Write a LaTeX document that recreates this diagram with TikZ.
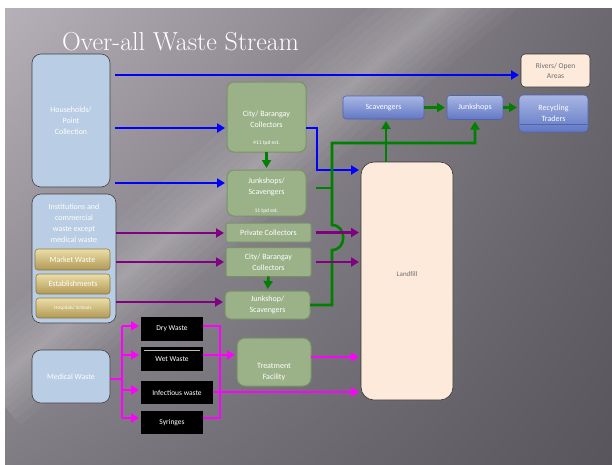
\documentclass[tikz,border=0pt]{standalone}
\usepackage{fontspec}
\setsansfont{Carlito}
\usetikzlibrary{arrows.meta,calc,shadings}
\definecolor{lblue}{RGB}{185,205,229}
\definecolor{gfill}{RGB}{155,178,137}
\definecolor{gdraw}{RGB}{120,146,102}
\definecolor{goldA}{RGB}{236,222,168}
\definecolor{goldB}{RGB}{176,152,84}
\definecolor{goldC}{RGB}{140,120,60}
\definecolor{cream}{RGB}{253,234,219}
\definecolor{bluA}{RGB}{168,182,228}
\definecolor{bluB}{RGB}{98,120,196}
\definecolor{bluC}{RGB}{80,100,170}
\definecolor{lnblue}{RGB}{0,0,255}
\definecolor{lngreen}{RGB}{0,128,0}
\definecolor{lnpurple}{RGB}{128,0,128}
\definecolor{lnmag}{RGB}{255,0,255}
\definecolor{txtgray}{RGB}{110,110,110}
\definecolor{bgUL}{RGB}{182,176,184}
\definecolor{bgUR}{RGB}{108,104,112}
\definecolor{bgLL}{RGB}{128,124,132}
\definecolor{bgLR}{RGB}{88,85,92}
\begin{document}
\begin{tikzpicture}[x=1pt,y=-1pt,
  every node/.style={inner sep=0pt, outer sep=0pt, align=center, font=\sffamily\fontsize{8}{11}\selectfont},
  lb/.style={draw=black!75, fill=lblue, line width=0.6pt, rounded corners=9pt, text=white},
  gb/.style={draw=gdraw, fill=gfill, line width=1pt, rounded corners=7pt, text=white},
  gsq/.style={gb, rounded corners=1.5pt},
  gold/.style={draw=goldC, top color=goldA, bottom color=goldB, line width=0.6pt, rounded corners=3pt, text=white},
  blk/.style={fill=black, text=white, font=\sffamily\fontsize{7.5}{9}\selectfont},
  bgr/.style={draw=bluC, top color=bluA, bottom color=bluB, line width=0.6pt, rounded corners=3pt, text=white},
  crm/.style={draw=black!80, fill=cream, line width=0.6pt, text=txtgray},
  lbl/.style={text=white},
  conn/.style={line width=2.6pt},
  arr/.style={conn, -{Triangle[length=8pt,width=9pt]}, shorten >=2pt},
  bl/.style={arr, draw=lnblue},
  gr/.style={arr, draw=lngreen}, grl/.style={conn, draw=lngreen},
  pu/.style={arr, draw=lnpurple},
  mg/.style={arr, draw=lnmag}, mgl/.style={conn, draw=lnmag},
  streak/.style={fill=white, fill opacity=0.035}
]
\useasboundingbox (0,0) rectangle (612,464);
\fill[white] (0,0) rectangle (612,464);
\begin{scope}
\clip (5,8) rectangle (612,464);
\shade[upper left=bgUL, upper right=bgUR, lower left=bgLL, lower right=bgLR]
  (5,8) rectangle (612,464);
\begin{scope}[shift={(250,170)}, rotate=40]
\foreach \w in {48,40,32,25,18,12,7,3}
  \fill[streak] (-340,-\w) rectangle (340,\w);
\end{scope}
\end{scope}

\node[anchor=base west, text=white, font=\rmfamily\fontsize{26}{30}\selectfont] (title) at (62,50) {Over-all Waste Stream};

% left column
\node[lb, minimum width=78pt, minimum height=133pt] (hh) at (71,120.5) {Households/\\Point\\Collection};
\node[lb, minimum width=84pt, minimum height=129pt] (inst) at (74,258.5) {};
\node[lbl] (instl) at (74,223.5) {Institutions and\\commercial\\waste except\\medical waste};
\node[gold, minimum width=75pt, minimum height=21pt] (mkt) at (72.5,259.5) {Market Waste};
\node[gold, minimum width=74pt, minimum height=20pt] (est) at (73,284) {Establishments};
\node[gold, minimum width=74pt, minimum height=20pt, font=\sffamily\fontsize{5}{6}\selectfont] (hosp) at (73,308) {Hospitals/ Schools};
\node[lb, minimum width=78pt, minimum height=53pt] (med) at (71,376.5) {Medical Waste};

% green column
\node[gb, minimum width=79pt, minimum height=70pt] (cb1) at (266.5,117) {};
\node[lbl] (cb1l) at (266.5,119.5) {City/ Barangay\\Collectors};
\node[lbl, font=\sffamily\fontsize{5.5}{6}\selectfont] (tpd1) at (266.5,143) {411 tpd est.};
\node[gb, minimum width=79pt, minimum height=46pt] (js1) at (266.5,193) {};
\node[lbl] (js1l) at (266.5,187) {Junkshops/\\Scavengers};
\node[lbl, font=\sffamily\fontsize{5.5}{6}\selectfont] (tpd2) at (266.5,211) {11 tpd est.};
\node[gsq, minimum width=85pt, minimum height=19pt] (pc) at (268.5,232.5) {Private Collectors};
\node[gsq, minimum width=85pt, minimum height=29pt] (cb2) at (268.5,262) {City/ Barangay\\Collectors};
\node[gb, rounded corners=5pt, minimum width=85pt, minimum height=28pt] (js2) at (267.5,305) {Junkshop/\\Scavengers};

% medical
\node[blk, minimum width=62pt, minimum height=24pt] (dry) at (172,329) {Dry Waste};
\node[blk, minimum width=62pt, minimum height=24pt] (wet) at (172,359) {Wet Waste};
\node[blk, minimum width=72pt, minimum height=23pt] (inf) at (177,392.5) {Infectious waste};
\node[blk, minimum width=62pt, minimum height=23pt] (syr) at (172,422.5) {Syringes};
\draw[white!75!black, line width=0.6pt] ($(wet.north west)+(3,3)$) -- ($(wet.north east)+(-3,3)$);
\node[gb, rounded corners=8pt, minimum width=74pt, minimum height=48pt] (treat) at (274,362) {};
\node[lbl] (treatl) at (274,372) {Treatment\\Facility};

% right side
\node[crm, rounded corners=13pt, minimum width=92pt, minimum height=238pt] (landfill) at (407,281) {};
\node[text=txtgray, font=\sffamily\fontsize{7}{8}\selectfont] (landl) at (407,274) {Landfill};
\node[crm, rounded corners=4pt, minimum width=69pt, minimum height=33pt, font=\sffamily\fontsize{7.5}{10}\selectfont] (rivers) at (555.5,70.5) {Rivers/ Open\\Areas};
\node[bgr, minimum width=81pt, minimum height=23pt] (scav) at (383.5,107.5) {Scavengers};
\node[bgr, minimum width=56pt, minimum height=24pt] (junk) at (475,107.5) {Junkshops};
\node[bgr, rounded corners=4pt, minimum width=69pt, minimum height=37pt] (recyc) at (553.5,113.5) {Recycling\\Traders};
\draw[bluC, line width=0.8pt] ($(recyc.south west)+(1,-8)$) -- ($(recyc.south east)+(-1,-8)$);

% coordinates
\coordinate (b1) at (115,75);
\coordinate (b2) at (115,128);
\coordinate (b3) at (115,183);
\coordinate (b4) at (317,128);
\coordinate (b5) at (317,170);
\coordinate (gtop) at (332,143);
\coordinate (gstub) at (316,188);
\coordinate (gb1) at (332,225);
\coordinate (gb2) at (332,250);
\coordinate (gbot) at (332,305);
\coordinate (gland) at (386,162);
\coordinate (p1) at (116,233);
\coordinate (p2) at (116,262);
\coordinate (p3) at (116,302);
\coordinate (m0) at (122,379);
\coordinate (m1) at (122,326);
\coordinate (m2) at (122,355);
\coordinate (m3) at (122,390);
\coordinate (m4) at (122,418);
\coordinate (r1) at (220,326);
\coordinate (r4) at (220,418);
\coordinate (mw) at (220,355);
\coordinate (mi) at (220,392);
\coordinate (mt) at (320,357);

% blue
\draw[bl] (b1) -- (b1 -| rivers.west);
\draw[bl] (b2) -- (b2 -| cb1.west);
\draw[bl] (b3) -- (b3 -| js1.west);
\draw[bl] (b4 -| cb1.east) -- (b4) -- (b5) -- (b5 -| landfill.west);

% green
\draw[gr] (cb1.south) -- (js1.north);
\draw[gr] (cb2.south) -- (js2.north);
\draw[gr] (scav.east) -- (junk.west);
\draw[gr] (junk.east) -- (junk.east -| recyc.west);
\draw[gr] (gland) -- (gland |- scav.south);
\draw[grl] (gstub) -- (gstub -| gtop);
\draw[gr] (gbot -| js2.east) -- (gbot) -- (gb2) .. controls +(15,0) and +(15,0) .. (gb1) -- (gtop) -| (junk.south);

% purple
\draw[pu] (p1) -- (p1 -| pc.west);
\draw[pu] (p2) -- (p2 -| cb2.west);
\draw[pu] (p3) -- (p3 -| js2.west);
\draw[pu, shorten <=5pt] (pc.east) -- (pc.east -| landfill.west);
\draw[pu, shorten <=5pt] (cb2.east) -- (cb2.east -| landfill.west);

% magenta
\draw[mgl] (m0 -| med.east) -- (m0);
\draw[mgl] (m1) -- (m4);
\draw[mg] (m1) -- (m1 -| dry.west);
\draw[mg] (m2) -- (m2 -| wet.west);
\draw[mg] (m3) -- (m3 -| inf.west);
\draw[mg] (m4) -- (m4 -| syr.west);
\draw[mgl] (r1 -| dry.east) -- (r1) -- (r4) -- (r4 -| syr.east);
\draw[mg] (mw -| wet.east) -- (mw -| treat.west);
\draw[mg] (mi -| inf.east) -- (mi -| landfill.west);
\draw[mg] (mt -| treat.east) -- (mt -| landfill.west);
\end{tikzpicture}
\end{document}
